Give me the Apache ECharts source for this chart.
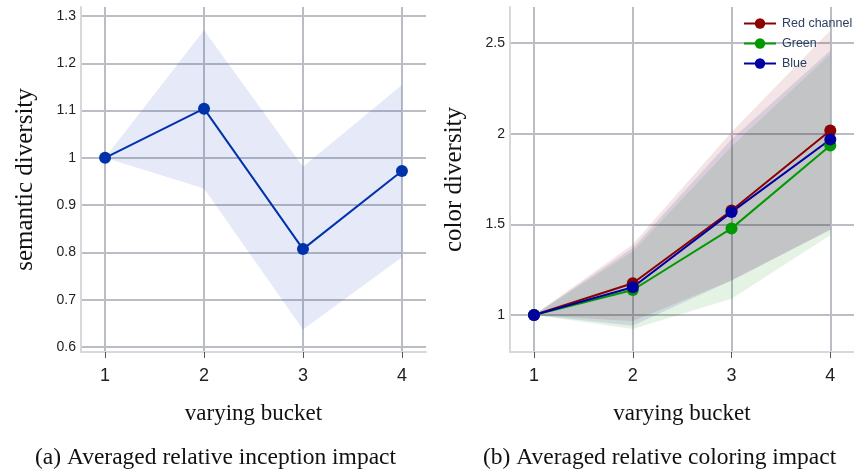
<!DOCTYPE html>
<html>
<head>
    <meta charset="UTF-8">
    <title>Averaged relative impact</title>
    <script src="https://cdn.jsdelivr.net/npm/echarts@6/dist/echarts.min.js"></script>
    <style>
        body { margin: 0; background: #fff; }
    </style>
</head>
<body>
<div id="main" style="width: 854px;height:474px;"></div>

<script>
    // x categories (varying bucket)
    var buckets = [1, 2, 3, 4];

    // (a) semantic diversity: mean and band
    var semMean = [1, 1.104, 0.807, 0.972];
    var semLow = [1, 0.935, 0.637, 0.790];
    var semHigh = [1, 1.270, 0.981, 1.154];
    var semTicks = [0.6, 0.7, 0.8, 0.9, 1, 1.1, 1.2, 1.3];

    // (b) color diversity per channel
    var redMean = [1, 1.175, 1.577, 2.018];
    var redLow = [1, 0.965, 1.190, 1.470];
    var redHigh = [1, 1.390, 2.010, 2.570];
    var greenMean = [1, 1.138, 1.478, 1.936];
    var greenLow = [1, 0.923, 1.090, 1.440];
    var greenHigh = [1, 1.350, 1.930, 2.440];
    var blueMean = [1, 1.153, 1.568, 1.969];
    var blueLow = [1, 0.940, 1.190, 1.470];
    var blueHigh = [1, 1.370, 1.970, 2.460];
    var colorTicks = [1, 1.5, 2, 2.5];

    var gridColor = '#babdc3';

    function pts(ys) {
        return buckets.map(function (b, i) { return [b, ys[i]]; });
    }

    // band drawn as one polygon through the axis scales
    function band(name, idx, low, high, fill) {
        return {
            name: name,
            type: 'custom',
            xAxisIndex: idx,
            yAxisIndex: idx,
            silent: true,
            data: buckets.map(function (b, i) { return [b, low[i], high[i]]; }),
            renderItem: function (params, api) {
                if (params.dataIndex !== 0) return;
                var top = [], bottom = [];
                for (var i = 0; i < buckets.length; i++) {
                    top.push(api.coord([buckets[i], high[i]]));
                    bottom.unshift(api.coord([buckets[i], low[i]]));
                }
                return {
                    type: 'polygon',
                    shape: { points: top.concat(bottom) },
                    style: { fill: fill }
                };
            }
        };
    }

    function line(name, idx, ys, color) {
        return {
            name: name,
            type: 'line',
            xAxisIndex: idx,
            yAxisIndex: idx,
            data: pts(ys),
            symbol: 'circle',
            symbolSize: 12,
            lineStyle: { color: color, width: 2 },
            itemStyle: { color: color },
            z: 5
        };
    }

    function xAxis(idx, min, max) {
        return {
            type: 'value',
            gridIndex: idx,
            min: min,
            max: max,
            name: 'varying bucket',
            nameLocation: 'middle',
            nameGap: 50,
            nameTextStyle: { fontFamily: 'Liberation Serif', fontSize: 23, color: '#111' },
            axisLine: { lineStyle: { color: '#d6d8dc', width: 2 } },
            axisTick: { show: true, length: 6, customValues: buckets, lineStyle: { color: '#555', width: 1 } },
            axisLabel: { customValues: buckets, margin: 15, fontFamily: 'Liberation Sans', fontSize: 18, color: '#222' },
            splitLine: { show: true, lineStyle: { color: gridColor, width: 2 } }
        };
    }

    function yAxis(idx, min, max, ticks, title) {
        return {
            type: 'value',
            gridIndex: idx,
            min: min,
            max: max,
            name: title,
            nameLocation: 'middle',
            nameGap: 43,
            nameTextStyle: { fontFamily: 'Liberation Serif', fontSize: 25, color: '#111' },
            axisLine: { show: true, lineStyle: { color: '#d6d8dc', width: 2 } },
            axisTick: { show: false, customValues: ticks },
            axisLabel: { customValues: ticks, margin: 5, fontFamily: 'Liberation Sans', fontSize: 14, color: '#222' },
            splitLine: { show: true, lineStyle: { color: gridColor, width: 2 } }
        };
    }

    var myChart = echarts.init(document.getElementById('main'));

    var option = {
        animation: false,
        backgroundColor: '#fff',
        grid: [
            { left: 81, top: 7, width: 345, height: 345 },
            { left: 510, top: 7, width: 344, height: 345 }
        ],
        xAxis: [xAxis(0, 0.757, 4.243), xAxis(1, 0.757, 4.240)],
        yAxis: [
            yAxis(0, 0.5894, 1.319, semTicks, 'semantic diversity'),
            yAxis(1, 0.7957, 2.700, colorTicks, 'color diversity')
        ],
        legend: {
            data: ['Red channel', 'Green', 'Blue'],
            orient: 'vertical',
            left: 738,
            top: 12,
            itemWidth: 32,
            itemHeight: 13,
            itemGap: 7,
            textStyle: { color: '#2a3f5f', fontFamily: 'Liberation Sans', fontSize: 12.5, padding: [0, 0, 0, 1] }
        },
        graphic: [
            {
                type: 'text', left: 35, top: 446,
                style: { text: '(a) Averaged relative inception impact', font: '23.5px "Liberation Serif"', fill: '#111' }
            },
            {
                type: 'text', left: 483, top: 446,
                style: { text: '(b) Averaged relative coloring impact', font: '23.5px "Liberation Serif"', fill: '#111' }
            }
        ],
        series: [
            band('sem band', 0, semLow, semHigh, 'rgba(40,70,200,0.12)'),
            line('semantic', 0, semMean, '#0033aa'),
            band('red band', 1, redLow, redHigh, 'rgba(139,0,0,0.1)'),
            band('green band', 1, greenLow, greenHigh, 'rgba(0,140,0,0.1)'),
            band('blue band', 1, blueLow, blueHigh, 'rgba(0,0,139,0.1)'),
            line('Red channel', 1, redMean, '#8b0000'),
            line('Green', 1, greenMean, '#009a00'),
            line('Blue', 1, blueMean, '#0000a0')
        ]
    };

    myChart.setOption(option);
</script>
</body>
</html>
